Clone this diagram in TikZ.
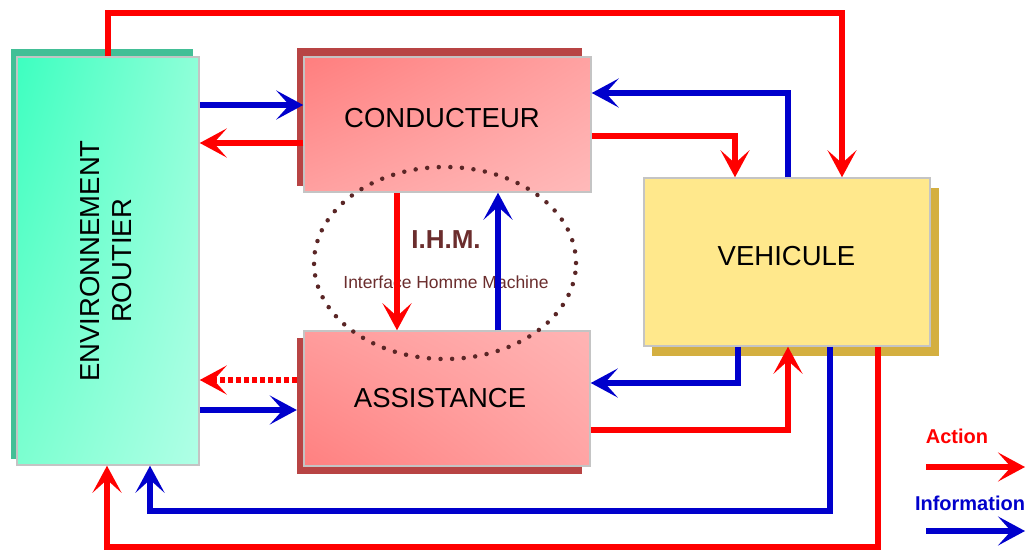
\documentclass[tikz,border=0pt]{standalone}
\usepackage{fontspec}
\setmainfont{Liberation Sans}
\usetikzlibrary{arrows.meta,shadings}

\definecolor{actred}{HTML}{FF0000}
\definecolor{infoblue}{HTML}{0000CC}
\definecolor{envsh}{HTML}{42BF96}
\definecolor{condsh}{HTML}{B84444}
\definecolor{vehsh}{HTML}{D4AF40}
\definecolor{vehfill}{HTML}{FFE88C}
\definecolor{frame}{HTML}{C4C4C4}
\definecolor{ihmcol}{HTML}{6B2D2D}
\definecolor{dotcol}{HTML}{5A2626}
% gradient corners
\definecolor{envUL}{HTML}{3DFFC0}
\definecolor{envUR}{HTML}{8EFFD8}
\definecolor{envLL}{HTML}{7CFFD0}
\definecolor{envLR}{HTML}{B0FFE6}
\definecolor{condUL}{HTML}{FF7E7E}
\definecolor{condUR}{HTML}{FFA2A2}
\definecolor{condLL}{HTML}{FFA0A0}
\definecolor{condLR}{HTML}{FFBABA}
\definecolor{asUL}{HTML}{FF9C9C}
\definecolor{asUR}{HTML}{FFB4B4}
\definecolor{asLL}{HTML}{FF8080}
\definecolor{asLR}{HTML}{FFA4A4}

\tikzset{
  tip/.tip={Stealth[length=27pt,width=29pt,inset=13pt]},
  link/.style={line width=5.5pt,-tip},
  act/.style={link,draw=actred},
  info/.style={link,draw=infoblue},
  hint/.style={act,dash pattern=on 5pt off 3pt},
  box/.style={rectangle,draw=frame,line width=1.5pt,inner sep=0pt},
  shadowbox/.style={rectangle,inner sep=0pt,draw=none},
  boxtext/.style={font=\fontsize{27.5}{32}\selectfont,text=black,align=center},
  legendtext/.style={font=\fontsize{20}{24}\selectfont\bfseries}
}

\begin{document}
\begin{tikzpicture}[x=1pt,y=-1pt]
\useasboundingbox (0,0) rectangle (1028,551);
\fill[white] (0,0) rectangle (1028,551);

% drop shadows
\node[shadowbox,fill=envsh,minimum width=182pt,minimum height=410pt] (envsh) at (102,254) {};
\node[shadowbox,fill=condsh,minimum width=285pt,minimum height=138pt] (condsh) at (439.5,117) {};
\node[shadowbox,fill=condsh,minimum width=285pt,minimum height=136pt] (assistsh) at (439.5,406) {};
\node[shadowbox,fill=vehsh,minimum width=287pt,minimum height=168pt] (vehsh) at (795.5,272) {};

% blocks
\node[box,minimum width=182pt,minimum height=408pt,
      upper left=envUL,upper right=envUR,
      lower left=envLL,lower right=envLR] (env) at (108,261) {};
\node[box,minimum width=287pt,minimum height=135pt,
      upper left=condUL,upper right=condUR,
      lower left=condLL,lower right=condLR] (cond) at (447.5,124.5) {};
\node[box,minimum width=286pt,minimum height=135pt,
      upper left=asUL,upper right=asUR,
      lower left=asLL,lower right=asLR] (assist) at (447,398.5) {};
\node[box,fill=vehfill,minimum width=286pt,minimum height=168pt] (veh) at (787,262) {};

% block titles
\node[boxtext,rotate=90] (envtxt) at (106,261) {ENVIRONNEMENT\\ROUTIER};
\node[boxtext] (condtxt) at (442,118) {CONDUCTEUR};
\node[boxtext] (assisttxt) at (440,398) {ASSISTANCE};
\node[boxtext] (vehtxt) at (786.5,256) {VEHICULE};

% man-machine interface
\draw[dotcol,line width=4.5pt,line cap=round,dash pattern=on 0pt off 11.6pt]
  (445,263) ellipse [x radius=131pt,y radius=96pt];
\node[text=ihmcol,font=\fontsize{26}{30}\selectfont\bfseries] (ihm) at (446,240) {I.H.M.};
\node[text=ihmcol,font=\fontsize{17.5}{20}\selectfont] (ihmlong) at (446,282) {Interface Homme Machine};

% flows between blocks
\draw[act] (env.north) |- (842,13) -- (veh.north -| 842,0);
\draw[info] (env.east |- 0,105) -- (cond.west |- 0,105);
\draw[act] (cond.west |- 0,143) -- (env.east |- 0,143);
\draw[info] (veh.north -| 788,0) |- (cond.east |- 0,93);
\draw[act] (cond.east |- 0,136) -| (veh.north -| 735,0);
\draw[act] (cond.south -| 397,0) -- (assist.north -| 397,0);
\draw[info] (assist.north -| 498,0) -- (cond.south -| 498,0);
\draw[hint] (assistsh.west |- 0,380) -- (env.east |- 0,380);
\draw[info] (env.east |- 0,410) -- (assistsh.west |- 0,410);
\draw[info] (veh.south -| 738,0) |- (assist.east |- 0,383);
\draw[act] (assist.east |- 0,430) -| (veh.south -| 788,0);
\draw[info] (veh.south -| 830,0) |- (150,511) -- (env.south -| 150,0);
\draw[act] (veh.south -| 878,0) |- (107,547) -- (env.south -| 107,0);

% legend
\node[legendtext,text=actred] (actlbl) at (957,436) {Action};
\coordinate (acta) at (926,467);
\coordinate (actb) at (1025,467);
\draw[act] (acta) -- (actb);
\node[legendtext,text=infoblue] (infolbl) at (970,503) {Information};
\coordinate (infoa) at (926,531);
\coordinate (infob) at (1025,531);
\draw[info] (infoa) -- (infob);
\end{tikzpicture}
\end{document}
